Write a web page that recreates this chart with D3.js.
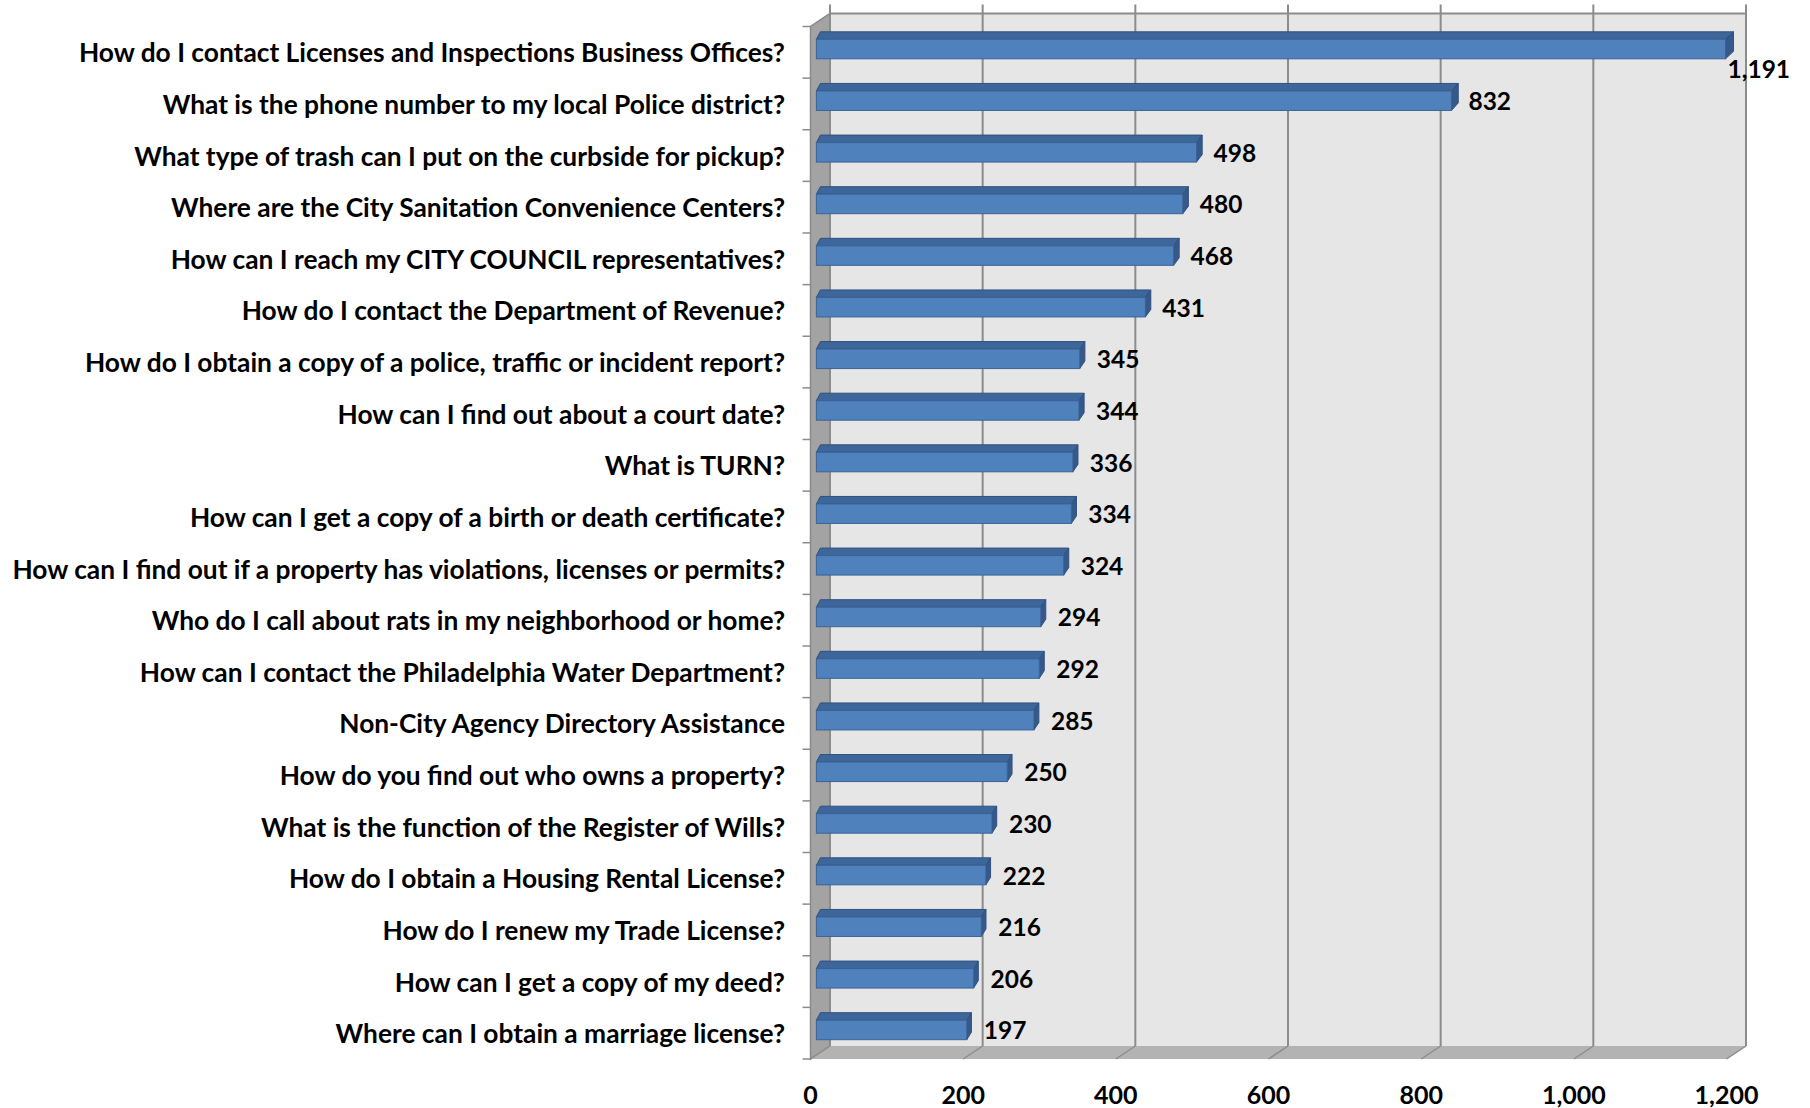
<!DOCTYPE html>
<html>
<head>
<meta charset="utf-8">
<script src="https://cdnjs.cloudflare.com/ajax/libs/d3/7.8.5/d3.min.js"></script>
<style>
  html, body { margin: 0; padding: 0; background: #ffffff; }
  svg { display: block; }
  text { font-family: Lato, "Noto Sans", "DejaVu Sans", sans-serif; font-weight: bold; fill: #000; }
</style>
</head>
<body>
<svg id="chart" width="1810" height="1108"></svg>
<script>
// Most frequently asked questions (call counts)
const questions = [
  "How do I contact Licenses and Inspections Business Offices?",
  "What is the phone number to my local Police district?",
  "What type of trash can I put on the curbside for pickup?",
  "Where are the City Sanitation Convenience Centers?",
  "How can I reach my CITY COUNCIL representatives?",
  "How do I contact the Department of Revenue?",
  "How do I obtain a copy of a police, traffic or incident report?",
  "How can I find out about a court date?",
  "What is TURN?",
  "How can I get a copy of a birth or death certificate?",
  "How can I find out if a property has violations, licenses or permits?",
  "Who do I call about rats in my neighborhood or home?",
  "How can I contact the Philadelphia Water Department?",
  "Non-City Agency Directory Assistance",
  "How do you find out who owns a property?",
  "What is the function of the Register of Wills?",
  "How do I obtain a Housing Rental License?",
  "How do I renew my Trade License?",
  "How can I get a copy of my deed?",
  "Where can I obtain a marriage license?"
];
const callCounts = [1191, 832, 498, 480, 468, 431, 345, 344, 336, 334, 324, 294, 292, 285, 250, 230, 222, 216, 206, 197];
const xTickValues = [0, 200, 400, 600, 800, 1000, 1200];

const svg = d3.select("#chart");
const fmt = d3.format(",");

// Back wall of the 3-D plot box and the depth vector toward the viewer
const back = { left: 830, right: 1746, top: 13.5, bottom: 1046 };
const depth = { dx: -19.5, dy: 13 };

const xBack = d3.scaleLinear().domain([0, 1200]).range([back.left, back.right]);
const xFront = d3.scaleLinear().domain([0, 1200]).range([back.left + depth.dx, back.right + depth.dx]);
const yBand = d3.scaleBand().domain(questions).range([back.top, back.bottom]);

// Bars sit a quarter of the way into the box from the front plane
const barDepthPos = 0.75;
const xBar = d3.scaleLinear().domain([0, 1200])
  .range([xBack(0) + depth.dx * barDepthPos + 1, xBack(1200) + depth.dx * barDepthPos + 1]);
const barH = 19.5;
const topRise = 7.5;

const wallGrey = "#8c8c8c";

// Side wall (left)
svg.append("polygon")
  .attr("points", [
    [back.left, back.top], [back.left, back.bottom],
    [back.left + depth.dx, back.bottom + depth.dy], [back.left + depth.dx, back.top + depth.dy]
  ].join(" "))
  .attr("fill", "#a3a3a3").attr("stroke", "#8a8a8a").attr("stroke-width", 1.5);

// Floor
svg.append("polygon")
  .attr("points", [
    [back.left, back.bottom], [back.right, back.bottom],
    [back.right + depth.dx, back.bottom + depth.dy], [back.left + depth.dx, back.bottom + depth.dy]
  ].join(" "))
  .attr("fill", "#b3b3b3");

// Back wall
svg.append("rect")
  .attr("x", back.left).attr("y", back.top)
  .attr("width", back.right - back.left).attr("height", back.bottom - back.top)
  .attr("fill", "#e6e6e6");

// Top edge of back wall
svg.append("line")
  .attr("x1", back.left).attr("x2", back.right)
  .attr("y1", back.top).attr("y2", back.top)
  .attr("stroke", wallGrey).attr("stroke-width", 2);

// Vertical gridlines on the back wall, continuing across the floor
const grid = svg.append("g");
grid.selectAll("line.v").data(xTickValues).join("line")
  .attr("class", "v")
  .attr("x1", d => xBack(d)).attr("x2", d => xBack(d))
  .attr("y1", back.top - 9).attr("y2", back.bottom)
  .attr("stroke", wallGrey).attr("stroke-width", 2);
grid.selectAll("line.f").data(xTickValues).join("line")
  .attr("class", "f")
  .attr("x1", d => xBack(d)).attr("x2", d => xFront(d))
  .attr("y1", back.bottom).attr("y2", back.bottom + depth.dy)
  .attr("stroke", wallGrey).attr("stroke-width", 1.5);

// Category tick marks along the front edge of the side wall
const bandEdges = questions.map(q => yBand(q)).concat([back.bottom]);
svg.append("g").selectAll("line").data(bandEdges).join("line")
  .attr("x1", back.left + depth.dx - 8).attr("x2", back.left + depth.dx)
  .attr("y1", d => d + depth.dy).attr("y2", d => d + depth.dy)
  .attr("stroke", wallGrey).attr("stroke-width", 1.5);

// Bars: front face, top face and end cap
const rows = questions.map((q, i) => ({ q, v: callCounts[i] }));
const barCenter = d => yBand(d.q) + yBand.bandwidth() / 2 + depth.dy * barDepthPos;
const capShift = x => 4 + 4 * (x - xBar(0)) / (xBar(1200) - xBar(0));

const bars = svg.append("g").selectAll("g").data(rows).join("g");

bars.append("polygon") // top face
  .attr("points", d => {
    const x0 = xBar(0), x1 = xBar(d.v), y0 = barCenter(d) - barH / 2;
    return [[x0, y0], [x1, y0], [x1 + capShift(x1), y0 - topRise], [x0 + capShift(x0), y0 - topRise]].join(" ");
  })
  .attr("fill", "#3d669b").attr("stroke", "#2f5181").attr("stroke-width", 1);

bars.append("polygon") // end cap
  .attr("points", d => {
    const x1 = xBar(d.v), y0 = barCenter(d) - barH / 2, s = capShift(x1);
    return [[x1, y0], [x1 + s, y0 - topRise], [x1 + s, y0 + barH - topRise], [x1, y0 + barH]].join(" ");
  })
  .attr("fill", "#37598a").attr("stroke", "#2f5181").attr("stroke-width", 1);

bars.append("rect") // front face
  .attr("x", xBar(0))
  .attr("y", d => barCenter(d) - barH / 2)
  .attr("width", d => xBar(d.v) - xBar(0))
  .attr("height", barH)
  .attr("fill", "#4f81bd").attr("stroke", "#3a6396").attr("stroke-width", 1);

// Value labels
const valueSize = 24.5;
const labels = bars.append("text")
  .attr("font-size", valueSize)
  .attr("dominant-baseline", "central")
  .text(d => fmt(d.v))
  .attr("x", d => xBar(d.v) + 17)
  .attr("y", d => barCenter(d));
// A label that would run off the right edge drops below its bar instead
labels.each(function (d) {
  const w = this.getComputedTextLength();
  if (xBar(d.v) + 17 + w > 1800) {
    d3.select(this).attr("x", xBar(d.v) + 2).attr("y", barCenter(d) + barH);
  }
});

// Category labels, right-aligned left of the plot box, sized so the longest fills the margin
const catRight = 785;
const catSize0 = 26;
const cats = svg.append("g").selectAll("text").data(questions).join("text")
  .attr("x", catRight)
  .attr("y", d => yBand(d) + yBand.bandwidth() / 2 + depth.dy)
  .attr("text-anchor", "end")
  .attr("dominant-baseline", "central")
  .attr("font-size", catSize0)
  .text(d => d);
let maxW = 0;
cats.each(function () { maxW = Math.max(maxW, this.getComputedTextLength()); });
const availW = catRight - 12;
cats.attr("font-size", catSize0 * availW / maxW);

// Value axis labels under the floor
svg.append("g").selectAll("text").data(xTickValues).join("text")
  .attr("x", d => xFront(d))
  .attr("y", 1094)
  .attr("text-anchor", "middle")
  .attr("dominant-baseline", "central")
  .attr("font-size", 25)
  .text(d => fmt(d));
</script>
</body>
</html>
